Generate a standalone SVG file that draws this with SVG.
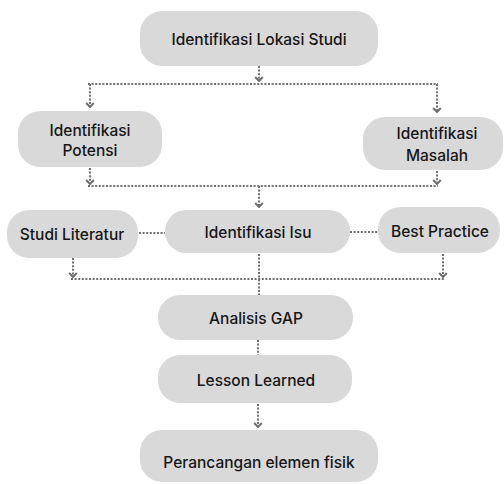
<svg xmlns="http://www.w3.org/2000/svg" width="504" height="484" viewBox="0 0 504 484">
<style>
.n{fill:#d9d9d9;}
.t{font-family:Inter,"Noto Sans","Liberation Sans",sans-serif;font-size:15.5px;font-weight:500;fill:#161616;text-anchor:middle;dominant-baseline:central;}
.c{fill:none;stroke:#6e6e6e;stroke-width:2;stroke-dasharray:2 1.6;}
.a{marker-end:url(#chev);}
</style>
<defs>
<marker id="chev" markerUnits="userSpaceOnUse" viewBox="0 0 6 10" refX="5" refY="5" markerWidth="6" markerHeight="10" orient="auto">
<path d="M1,1.2 L5,5 L1,8.8" fill="none" stroke="#6e6e6e" stroke-width="2"/>
</marker>
</defs>
<rect width="504" height="484" fill="#fff"/>
<g id="connectors">
<path class="c a" d="M259,66 V81"/>
<path class="c" d="M88,84 H438"/>
<path class="c a" d="M90,84 V107"/>
<path class="c a" d="M437,84 V112"/>
<path class="c a" d="M90,168 V184"/>
<path class="c a" d="M437,171 V184"/>
<path class="c" d="M88,186 H438"/>
<path class="c a" d="M259,186 V207"/>
<path class="c" d="M139,233 H165"/>
<path class="c" d="M350,232 H378"/>
<path class="c a" d="M73,258 V277"/>
<path class="c a" d="M443,254 V277"/>
<path class="c" d="M71,279 H445"/>
<path class="c" d="M259,254 V295"/>
<path class="c" d="M258,340 V355"/>
<path class="c a" d="M258,404 V427"/>
</g>
<g id="lokasi"><rect class="n" x="140" y="11" width="238" height="55" rx="22"/><text class="t" x="259" y="39">Identifikasi Lokasi Studi</text></g>
<g id="potensi"><rect class="n" x="18" y="111" width="144" height="56" rx="22"/><text class="t" x="90" y="130">Identifikasi</text><text class="t" x="90" y="150">Potensi</text></g>
<g id="masalah"><rect class="n" x="363" y="117" width="140" height="53" rx="22"/><text class="t" x="437" y="133">Identifikasi</text><text class="t" x="437" y="155">Masalah</text></g>
<g id="literatur"><rect class="n" x="7" y="210" width="131" height="48" rx="22"/><text class="t" x="72" y="234">Studi Literatur</text></g>
<g id="isu"><rect class="n" x="165" y="210" width="185" height="43" rx="21"/><text class="t" x="258" y="232">Identifikasi Isu</text></g>
<g id="best"><rect class="n" x="378" y="207" width="122" height="46" rx="22"/><text class="t" x="440" y="231">Best Practice</text></g>
<g id="gap"><rect class="n" x="158" y="295" width="195" height="45" rx="22"/><text class="t" x="256" y="318">Analisis GAP</text></g>
<g id="lesson"><rect class="n" x="158" y="355" width="194" height="48" rx="22"/><text class="t" x="256" y="380">Lesson Learned</text></g>
<g id="perancangan"><rect class="n" x="140" y="430" width="238" height="52" rx="22"/><text class="t" x="259" y="462">Perancangan elemen fisik</text></g>
</svg>
